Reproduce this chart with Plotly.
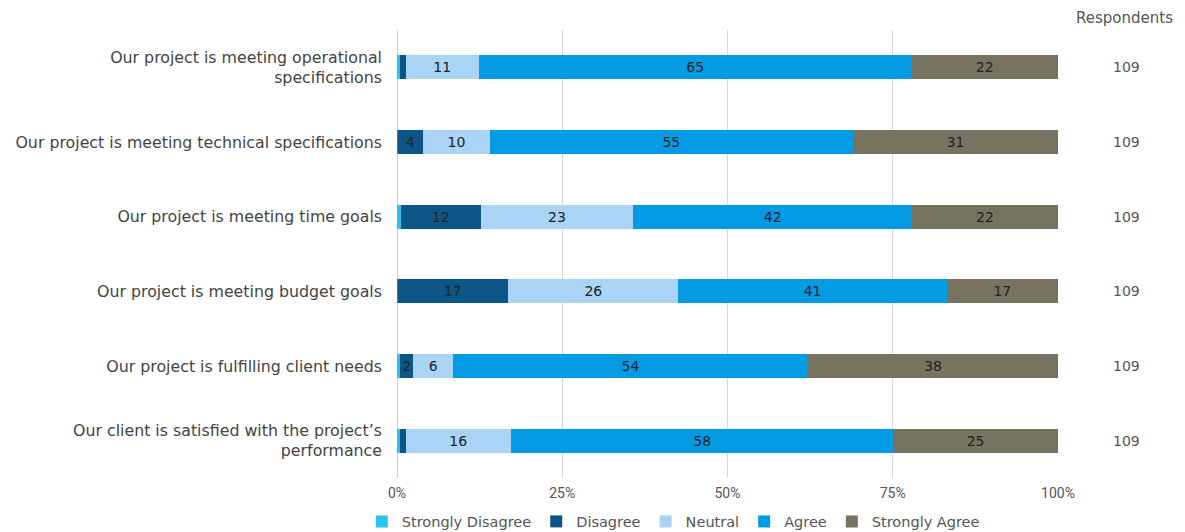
import plotly.graph_objects as go

categories = [
    "Our project is meeting operational<br>specifications",
    "Our project is meeting technical specifications",
    "Our project is meeting time goals",
    "Our project is meeting budget goals",
    "Our project is fulfilling client needs",
    "Our client is satisfied with the project’s<br>performance",
]
strongly_disagree = [0.5, 0, 0.6, 0, 0.5, 0.5]
disagree = [0.8, 4, 12, 17, 2, 0.8]
neutral = [11, 10, 23, 26, 6, 16]
agree = [65, 55, 42, 41, 54, 58]
strongly_agree = [22, 31, 22, 17, 38, 25]
respondents = [109, 109, 109, 109, 109, 109]
tick_vals = [0, 25, 50, 75, 100]
tick_text = ["0%", "25%", "50%", "75%", "100%"]

series = [
    ("Strongly Disagree", strongly_disagree, "#27c4f3"),
    ("Disagree", disagree, "#0b5587"),
    ("Neutral", neutral, "#a9d4f5"),
    ("Agree", agree, "#039be3"),
    ("Strongly Agree", strongly_agree, "#767461"),
]

LABEL_FONT = "DejaVu Sans"

fig = go.Figure()
for name, vals, color in series:
    fig.add_trace(go.Bar(
        name=name, x=vals, y=categories, orientation="h",
        marker=dict(color=color, line=dict(width=0)),
        text=[f"{v:.0f}" if v >= 1.5 else "" for v in vals],
        textposition="inside", insidetextanchor="middle", textangle=0,
        textfont=dict(family=LABEL_FONT, size=14, color="#222222"),
        hoverinfo="skip",
    ))

for cat, r in zip(categories, respondents):
    fig.add_annotation(x=1.104, xref="paper", y=cat, yref="y", text=str(r),
                       showarrow=False, xanchor="center",
                       font=dict(family=LABEL_FONT, size=14, color="#555555"))
fig.add_annotation(x=1.101, xref="paper", y=1.026, yref="paper", text="Respondents",
                   showarrow=False, xanchor="center", yanchor="middle",
                   font=dict(family=LABEL_FONT, size=15, color="#555555"))

fig.update_layout(
    width=1177, height=524,
    margin=dict(l=389, r=127, t=22, b=54, autoexpand=False),
    barmode="stack", barnorm="percent", bargap=0.68,
    plot_bgcolor="white", paper_bgcolor="white",
    font=dict(family=LABEL_FONT, size=14, color="#555555"),
    uniformtext=dict(minsize=13, mode="show"),
    legend=dict(orientation="h", x=0.418, xanchor="center", y=-0.097, yanchor="middle",
                font=dict(family=LABEL_FONT, size=14.5, color="#555555"),
                traceorder="normal", itemwidth=30, tracegroupgap=0),
    xaxis=dict(range=[0, 100], tickvals=tick_vals, ticktext=tick_text,
               showgrid=True, gridcolor="#d9d9d9", gridwidth=1,
               zeroline=False, showline=False, ticks="",
               ticklabelstandoff=5,
               tickfont=dict(family="Roboto", size=14, color="#555555")),
    yaxis=dict(autorange="reversed", showgrid=False, ticks="", ticklen=0,
               ticklabelstandoff=14,
               tickfont=dict(family=LABEL_FONT, size=15.8, color="#444444")),
    shapes=[dict(type="line", xref="x", yref="paper", x0=0, x1=0, y0=0, y1=1,
                 line=dict(color="#9e9e9e", width=1))],
)

fig.write_html("out.html")
